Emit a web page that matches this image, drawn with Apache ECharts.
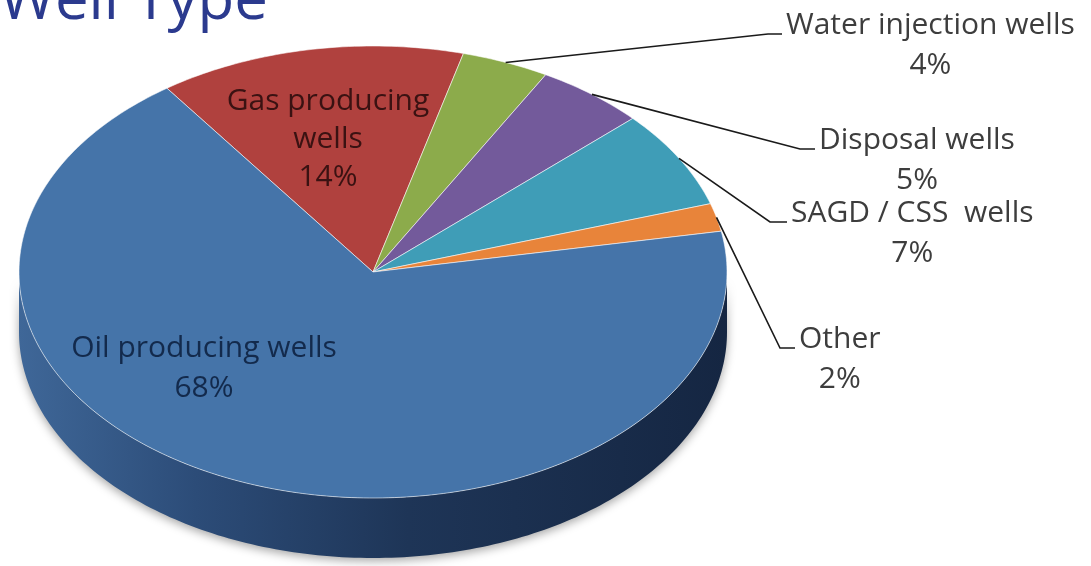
<!DOCTYPE html>
<html><head><meta charset="utf-8">
<script src="https://cdn.jsdelivr.net/npm/echarts@6/dist/echarts.min.js"></script>
<style>html,body{margin:0;padding:0;background:#fff;overflow:hidden}#c{width:1091px;height:566px}</style>
</head><body><div id="c"></div>
<script>
// ---- data ----
const titleText = 'Well Type';
const categories = ['Gas producing wells', 'Water injection wells', 'Disposal wells', 'SAGD / CSS  wells', 'Other', 'Oil producing wells'];
const values = [14, 4, 5, 7, 2, 68];

// ---- styles / layout (not data) ----
const colors = ['#b0413e', '#8cab4b', '#735a9b', '#3f9db7', '#e8843a', '#4574a9'];
const labelLines = [['Gas producing', 'wells'], ['Water injection wells'], ['Disposal wells'], ['SAGD / CSS  wells'], ['Other'], ['Oil producing wells']];
const inside = {0: {x: 328, y: 110, color: '#3a1212', lh: 38}, 5: {x: 204, y: 357, color: '#132a4c', lh: 40}};
const outside = {
  1: {elbow: [768, 34], end: [782, 34]},
  2: {elbow: [800, 149], end: [815, 149]},
  3: {elbow: [770, 222], end: [787, 222]},
  4: {elbow: [780, 348], end: [795, 348]}
};
const L = {cx: 373, cy: 272, rx: 354, ry: 226, depth: 60, startAngle: 125.6};
const FONT = '"Open Sans", Lato, sans-serif';
const FS = 30;
const BASE = 9; // baseline offset from middle for FS

const total = values.reduce((a, b) => a + b, 0);
const starts = [];
{ let c = 0; values.forEach(v => { starts.push(L.startAngle - 360 * c / total); c += v; }); }

function pt(theta, dy) {
  const r = theta * Math.PI / 180;
  return [L.cx + L.rx * Math.cos(r), L.cy - L.ry * Math.sin(r) + (dy || 0)];
}
function arc(a, b, dy) {
  const n = Math.max(2, Math.ceil(Math.abs(b - a) / 1));
  const out = [];
  for (let i = 0; i <= n; i++) out.push(pt(a + (b - a) * i / n, dy));
  return out;
}
const mctx = document.createElement('canvas').getContext('2d');
function textW(s, font) { mctx.font = font; return mctx.measureText(s).width; }

function renderItem(params, api) {
  const i = params.dataIndex;
  const v = api.value(0);
  const a0 = starts[i];
  const a1 = a0 - 360 * v / total;
  const children = [];
  // side wall (front half only)
  for (let k = -2; k <= 1; k++) {
    const lo = Math.max(a1, -180 + 360 * k), hi = Math.min(a0, 360 * k);
    if (hi > lo) {
      const pts = arc(hi, lo, 0).concat(arc(lo, hi, L.depth));
      children.push({
        type: 'polygon', shape: {points: pts},
        style: {
          fill: {type: 'linear', x: L.cx - L.rx, y: 0, x2: L.cx + L.rx, y2: 0, global: true,
            colorStops: [{offset: 0, color: '#3f6798'}, {offset: 0.25, color: '#2c4c78'}, {offset: 0.55, color: '#1e3557'}, {offset: 1, color: '#152642'}]},
          shadowBlur: 10, shadowColor: 'rgba(0,0,0,0.35)', shadowOffsetY: 3
        }
      });
    }
  }
  // top face
  children.push({
    type: 'polygon', shape: {points: [[L.cx, L.cy]].concat(arc(a0, a1, 0))},
    style: {fill: colors[i], stroke: 'rgba(255,255,255,0.55)', lineWidth: 1}
  });
  const pct = Math.round(v / total * 100) + '%';
  const font = FS + 'px ' + FONT;
  if (inside[i]) {
    const c = inside[i];
    const lines = labelLines[i].concat([pct]);
    lines.forEach((s, j) => {
      children.push({type: 'text', style: {text: s, x: c.x, y: c.y + j * c.lh - BASE, font: font, fill: c.color, align: 'center', verticalAlign: 'middle'}});
    });
  } else if (outside[i]) {
    const o = outside[i];
    const mid = (a0 + a1) / 2;
    const p0 = pt(mid, 0);
    children.push({type: 'polyline', shape: {points: [p0, o.elbow, o.end]}, style: {stroke: '#1a1a1a', lineWidth: 1.6, fill: null}});
    const first = labelLines[i][0];
    const w = textW(first, font);
    const left = o.end[0] + 4;
    children.push({type: 'text', style: {text: first, x: left, y: o.end[1] - BASE, font: font, fill: '#3d3d3d', align: 'left', verticalAlign: 'middle'}});
    children.push({type: 'text', style: {text: pct, x: left + w / 2, y: o.end[1] + 40 - BASE, font: font, fill: '#3d3d3d', align: 'center', verticalAlign: 'middle'}});
  }
  return {type: 'group', children: children};
}

const chart = echarts.init(document.getElementById('c'), null, {renderer: 'canvas'});
chart.setOption({
  backgroundColor: '#ffffff',
  animation: false,
  graphic: [{type: 'text', x: 268, y: 2, style: {text: titleText, font: '60px ' + FONT, fill: '#2b3a8e', align: 'right', verticalAlign: 'middle'}}],
  series: [{
    type: 'custom', coordinateSystem: 'none',
    data: values.map((v, i) => ({name: categories[i], value: [v, i]})),
    renderItem: renderItem
  }]
});
</script></body></html>
